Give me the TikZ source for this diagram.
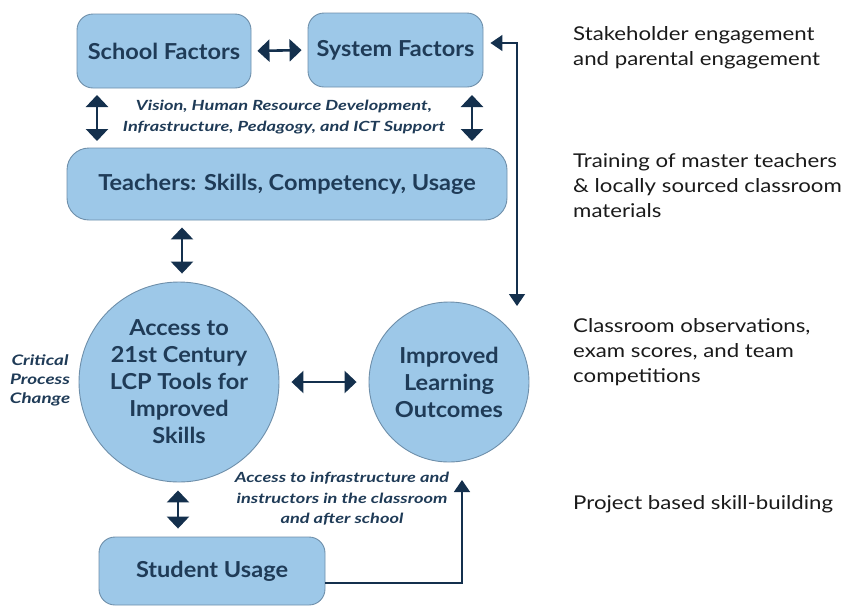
\documentclass[tikz,border=0pt]{standalone}
\usepackage{fontspec}
\setmainfont{Lato}
\newfontfamily\boxfont[FakeStretch=1.07]{Lato}
\newfontfamily\labfont[FakeStretch=1.3]{Lato}
\newfontfamily\sidefont[FakeStretch=1.17]{Lato}
\usetikzlibrary{arrows.meta,calc}
\definecolor{boxfill}{HTML}{9DC8E8}
\definecolor{boxline}{HTML}{6E8FAA}
\definecolor{navy}{HTML}{1F3B57}
\definecolor{arrowc}{HTML}{14304D}
\definecolor{sidetext}{HTML}{1A1A1A}
\begin{document}
\begin{tikzpicture}[x=1pt,y=-1pt,
  rbox/.style={draw=boxline,fill=boxfill,line width=0.9pt,rounded corners=16pt,
    font=\boxfont\fontsize{22}{26}\selectfont\bfseries,text=navy,inner sep=0pt},
  cbox/.style={circle,draw=boxline,fill=boxfill,line width=0.9pt,
    font=\boxfont\fontsize{22}{27}\selectfont\bfseries,text=navy,align=center,inner sep=0pt},
  dbl/.style={{Triangle[width=22pt,length=12pt]}-{Triangle[width=22pt,length=12pt]},
    line width=2.6pt,draw=arrowc},
  thinarr/.style={line width=1.4pt,draw=arrowc},
  lab/.style={font=\labfont\fontsize{14}{20.5}\selectfont\bfseries\itshape,text=navy,align=center,inner sep=0pt},
  side/.style={font=\sidefont\fontsize{19}{25}\selectfont,text=sidetext,align=left,anchor=north west,inner sep=0pt}]
\useasboundingbox (0,0) rectangle (851,606);

\node[rbox,minimum width=174pt,minimum height=74pt] (school) at (164,51) {School Factors};
\node[rbox,minimum width=175pt,minimum height=74pt] (system) at (395.5,50) {System Factors};
\node[rbox,rounded corners=22pt,minimum width=440pt,minimum height=72pt] (teach) at (287,184) {Teachers: Skills, Competency, Usage};
\node[cbox,minimum size=200pt] (lcp) at (179,382) {Access to\\21st Century\\LCP Tools for\\Improved\\Skills};
\node[cbox,minimum size=160pt] (ilo) at (449,382) {Improved\\Learning\\Outcomes};
\node[rbox,minimum width=226pt,minimum height=68pt] (student) at (212,571) {Student Usage};

\node[lab] (vision) at (284,117) {Vision, Human Resource Development,\\Infrastructure, Pedagogy, and ICT Support};
\node[lab,font=\labfont\fontsize{14.5}{19}\selectfont\bfseries\itshape] (crit) at (40,380) {Critical\\Process\\Change};
\node[lab] (acc) at (342,499) {Access to infrastructure and\\instructors in the classroom\\and after school};

\coordinate (rt) at (517,306);
\coordinate (bt) at (462,480);

\draw[dbl,shorten <=6pt,shorten >=6pt] (school.east) -- (system.west);
\draw[dbl] (97,95) coordinate (a1) -- (97,141) coordinate (a2);
\draw[dbl] (472,95) coordinate (b1) -- (472,141) coordinate (b2);
\draw[dbl,shorten <=7pt,shorten >=8pt] (182,0 |- teach.south) -- (182,0 |- lcp.north);
\draw[dbl,shorten <=12pt,shorten >=12pt] (lcp.east) -- (ilo.west);
\draw[dbl,shorten <=8pt,shorten >=8pt] (178,0 |- lcp.south) -- (178,0 |- student.north);
\draw[thinarr,{Triangle[width=16pt,length=12pt]}-{Triangle[width=16pt,length=12pt]},shorten <=7pt]
  ([yshift=7pt]system.east) -| (rt);
\draw[thinarr,-{Triangle[width=16pt,length=12pt]}] ([yshift=-12pt]student.east) -| (bt);

\node[side] (s1) at (573,26) {Stakeholder engagement\\and parental engagement};
\node[side] (s2) at (573,153) {Training of master teachers\\\& locally sourced classroom\\materials};
\node[side] (s3) at (573,318) {Classroom observations,\\exam scores, and team\\competitions};
\node[side] (s4) at (573,495) {Project based skill-building};
\end{tikzpicture}
\end{document}
